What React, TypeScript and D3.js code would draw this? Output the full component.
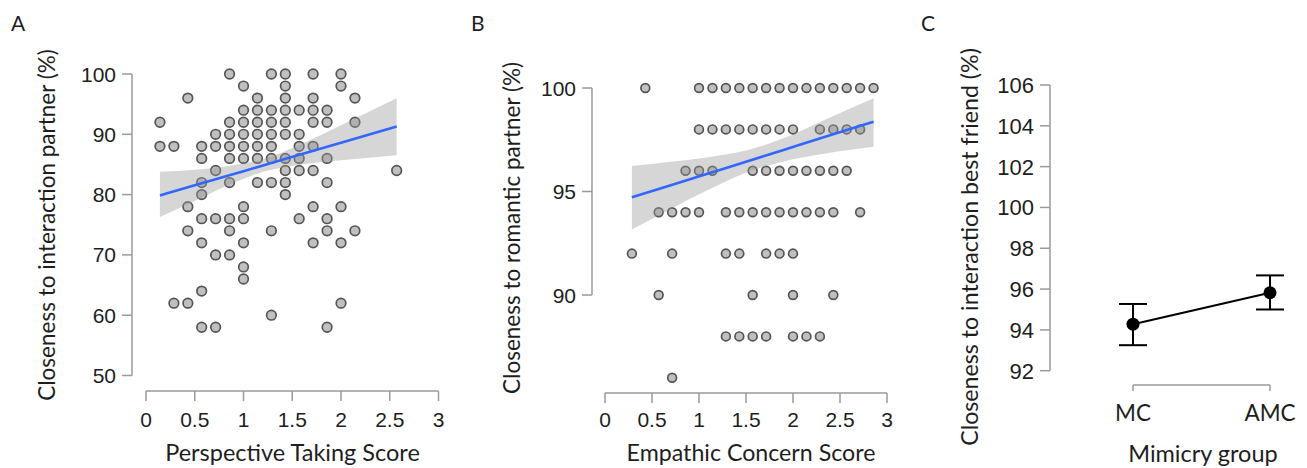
import React from 'react';
import * as d3 from 'd3';

// ---------- Panel A: Perspective taking vs closeness to interaction partner ----------
const ptScore = [
  0.143, 0.143,
  0.286, 0.286,
  0.429, 0.429, 0.429, 0.429,
  0.571, 0.571, 0.571, 0.571, 0.571, 0.571, 0.571, 0.571,
  0.714, 0.714, 0.714, 0.714, 0.714, 0.714,
  0.857, 0.857, 0.857, 0.857, 0.857, 0.857, 0.857, 0.857, 0.857,
  1, 1, 1, 1, 1, 1, 1, 1, 1, 1, 1,
  1.143, 1.143, 1.143, 1.143, 1.143, 1.143, 1.143,
  1.286, 1.286, 1.286, 1.286, 1.286, 1.286, 1.286, 1.286, 1.286,
  1.429, 1.429, 1.429, 1.429, 1.429, 1.429, 1.429, 1.429, 1.429, 1.429,
  1.571, 1.571, 1.571, 1.571, 1.571, 1.571,
  1.714, 1.714, 1.714, 1.714, 1.714, 1.714, 1.714, 1.714,
  1.857, 1.857, 1.857, 1.857, 1.857, 1.857, 1.857,
  2, 2, 2, 2, 2,
  2.143, 2.143, 2.143,
  2.571,
];
const ptCloseness = [
  92, 88,
  88, 62,
  96, 78, 74, 62,
  88, 86, 82, 80, 76, 72, 64, 58,
  90, 88, 84, 76, 70, 58,
  100, 92, 90, 88, 86, 82, 76, 74, 70,
  98, 94, 92, 90, 88, 86, 78, 76, 72, 68, 66,
  96, 94, 92, 90, 88, 86, 82,
  100, 94, 92, 90, 88, 86, 82, 74, 60,
  100, 98, 96, 94, 92, 90, 86, 84, 82, 80,
  94, 90, 88, 86, 84, 76,
  100, 96, 94, 92, 88, 84, 78, 72,
  94, 92, 86, 82, 76, 74, 58,
  100, 98, 78, 72, 62,
  96, 92, 74,
  84,
];
// fitted line and confidence band
const ptFitX = [0.143, 0.5, 0.9, 1.2, 1.6, 2.0, 2.571];
const ptFitY = [79.85, 81.54, 83.42, 84.83, 86.72, 88.6, 91.29];
const ptBandLow = [76.3, 78.95, 81.96, 83.78, 85.01, 85.7, 86.54];
const ptBandHigh = [83.8, 84.13, 84.88, 85.88, 88.43, 91.5, 95.96];
const ticksAX = [0, 0.5, 1, 1.5, 2, 2.5, 3];
const ticksAY = [50, 60, 70, 80, 90, 100];

// ---------- Panel B: Empathic concern vs closeness to romantic partner ----------
const ecScore = [
  0.286,
  0.429,
  0.571, 0.571,
  0.714, 0.714, 0.714,
  0.857, 0.857,
  1, 1, 1, 1,
  1.143, 1.143, 1.143,
  1.286, 1.286, 1.286, 1.286, 1.286,
  1.429, 1.429, 1.429, 1.429, 1.429,
  1.571, 1.571, 1.571, 1.571, 1.571, 1.571,
  1.714, 1.714, 1.714, 1.714, 1.714, 1.714,
  1.857, 1.857, 1.857, 1.857, 1.857,
  2, 2, 2, 2, 2, 2, 2,
  2.143, 2.143, 2.143, 2.143,
  2.286, 2.286, 2.286, 2.286, 2.286,
  2.429, 2.429, 2.429, 2.429, 2.429,
  2.571, 2.571, 2.571,
  2.714, 2.714, 2.714,
  2.857,
];
const ecCloseness = [
  92,
  100,
  94, 90,
  94, 92, 86,
  96, 94,
  100, 98, 96, 94,
  100, 98, 96,
  100, 98, 94, 92, 88,
  100, 98, 94, 92, 88,
  100, 98, 96, 94, 90, 88,
  100, 98, 96, 94, 92, 88,
  100, 98, 96, 94, 92,
  100, 98, 96, 94, 92, 90, 88,
  100, 96, 94, 88,
  100, 98, 96, 94, 88,
  100, 98, 96, 94, 90,
  100, 98, 96,
  100, 98, 94,
  100,
];
const ecFitX = [0.286, 0.7, 1.1, 1.5, 1.9, 2.3, 2.857];
const ecFitY = [94.72, 95.3, 95.87, 96.44, 97.01, 97.58, 98.37];
const ecBandLow = [93.17, 94.16, 95.08, 95.9, 96.45, 96.8, 97.16];
const ecBandHigh = [96.23, 96.44, 96.66, 96.98, 97.57, 98.38, 99.5];
const ticksBX = [0, 0.5, 1, 1.5, 2, 2.5, 3];
const ticksBY = [90, 95, 100];

// ---------- Panel C: Mimicry group means ----------
const groups = ['MC', 'AMC'];
const groupMean = [94.28, 95.82];
const groupLow = [93.25, 95.0];
const groupHigh = [95.27, 96.67];
const ticksCY = [92, 94, 96, 98, 100, 102, 104, 106];

const TICK_FONT = '"Liberation Sans", Arial, sans-serif';
const TITLE_FONT = 'Lato, "Open Sans", sans-serif';
const AXIS_COLOR = '#9a9a9a';
const TEXT_COLOR = '#1e1e1e';

const fmt = (v: number) => String(v);

function YAxis({ scale, ticks, x, tickLen = 10, gap = 6, fontSize = 21 }: any) {
  const ext = d3.extent(ticks) as [number, number];
  return (
    <g>
      <line x1={x} x2={x} y1={scale(ext[0])} y2={scale(ext[1])} stroke={AXIS_COLOR} strokeWidth={1.5} />
      {ticks.map((t: number) => (
        <g key={t}>
          <line x1={x - tickLen} x2={x} y1={scale(t)} y2={scale(t)} stroke={AXIS_COLOR} strokeWidth={1.5} />
          <text x={x - tickLen - gap} y={scale(t)} dy="0.36em" textAnchor="end" fontFamily={TICK_FONT} fontSize={fontSize} fill={TEXT_COLOR}>
            {fmt(t)}
          </text>
        </g>
      ))}
    </g>
  );
}

function XAxis({ scale, ticks, y, tickLen = 10, labelY, fontSize = 21 }: any) {
  const ext = d3.extent(ticks) as [number, number];
  return (
    <g>
      <line x1={scale(ext[0])} x2={scale(ext[1])} y1={y} y2={y} stroke={AXIS_COLOR} strokeWidth={1.5} />
      {ticks.map((t: number) => (
        <g key={t}>
          <line x1={scale(t)} x2={scale(t)} y1={y} y2={y + tickLen} stroke={AXIS_COLOR} strokeWidth={1.5} />
          <text x={scale(t)} y={labelY} textAnchor="middle" fontFamily={TICK_FONT} fontSize={fontSize} fill={TEXT_COLOR}>
            {fmt(t)}
          </text>
        </g>
      ))}
    </g>
  );
}

function Scatter({ xs, ys, xScale, yScale, fitX, fitY, bandLow, bandHigh, r }: any) {
  const area = d3
    .area<number>()
    .x((_, i) => xScale(fitX[i]))
    .y0((_, i) => yScale(bandLow[i]))
    .y1((_, i) => yScale(bandHigh[i]))
    .curve(d3.curveMonotoneX);
  const line = d3
    .line<number>()
    .x((_, i) => xScale(fitX[i]))
    .y((_, i) => yScale(fitY[i]))
    .curve(d3.curveMonotoneX);
  return (
    <g>
      {xs.map((x: number, i: number) => (
        <circle key={i} cx={xScale(x)} cy={yScale(ys[i])} r={r} fill="#c0c0c0" stroke="#555555" strokeWidth={1.7} />
      ))}
      <path d={area(fitX) || ''} fill="#999999" fillOpacity={0.4} />
      <path d={line(fitX) || ''} fill="none" stroke="#3366FF" strokeWidth={2.6} />
    </g>
  );
}

export default function App() {
  // Panel A scales
  const xA = d3.scaleLinear().domain([0, 3]).range([146, 438.5]);
  const yA = d3.scaleLinear().domain([50, 100]).range([375.5, 74]);
  // Panel B scales
  const xB = d3.scaleLinear().domain([0, 3]).range([605, 887]);
  const yB = d3.scaleLinear().domain([90, 100]).range([295, 88]);
  // Panel C scales
  const xC = d3.scalePoint<string>().domain(groups).range([1133, 1270]);
  const yC = d3.scaleLinear().domain([92, 106]).range([370.7, 85]);

  const lineC = d3
    .line<string>()
    .x((g) => xC(g) as number)
    .y((_, i) => yC(groupMean[i]));

  return (
    <svg width={1307} height={468} style={{ position: 'absolute', left: 0, top: 0, background: '#fff' }}>
      <rect width={1307} height={468} fill="#fff" />
      {/* Panel letters */}
      <text x={11} y={31} fontFamily={TITLE_FONT} fontSize={21} fill={TEXT_COLOR}>A</text>
      <text x={471} y={31} fontFamily={TITLE_FONT} fontSize={21} fill={TEXT_COLOR}>B</text>
      <text x={921} y={31} fontFamily={TITLE_FONT} fontSize={21} fill={TEXT_COLOR}>C</text>

      {/* Panel A */}
      <YAxis scale={yA} ticks={ticksAY} x={132} />
      <XAxis scale={xA} ticks={ticksAX} y={391} labelY={427} />
      <Scatter xs={ptScore} ys={ptCloseness} xScale={xA} yScale={yA} fitX={ptFitX} fitY={ptFitY} bandLow={ptBandLow} bandHigh={ptBandHigh} r={4.8} />
      <text x={292.5} y={461} textAnchor="middle" fontFamily={TITLE_FONT} fontSize={23.5} fill={TEXT_COLOR}>Perspective Taking Score</text>
      <text transform="translate(47,225) rotate(-90)" dy="0.35em" textAnchor="middle" fontFamily={TITLE_FONT} fontSize={22.5} fill={TEXT_COLOR}>
        Closeness to interaction partner (%)
      </text>

      {/* Panel B */}
      <YAxis scale={yB} ticks={ticksBY} x={592} />
      <XAxis scale={xB} ticks={ticksBX} y={393} labelY={427} />
      <Scatter xs={ecScore} ys={ecCloseness} xScale={xB} yScale={yB} fitX={ecFitX} fitY={ecFitY} bandLow={ecBandLow} bandHigh={ecBandHigh} r={4.4} />
      <text x={751} y={461} textAnchor="middle" fontFamily={TITLE_FONT} fontSize={23.2} fill={TEXT_COLOR}>Empathic Concern Score</text>
      <text transform="translate(512,228) rotate(-90)" dy="0.35em" textAnchor="middle" fontFamily={TITLE_FONT} fontSize={22.5} fill={TEXT_COLOR}>
        Closeness to romantic partner (%)
      </text>

      {/* Panel C */}
      <YAxis scale={yC} ticks={ticksCY} x={1050} fontSize={22} />
      <g>
        <line x1={xC('MC')} x2={xC('AMC')} y1={385} y2={385} stroke={AXIS_COLOR} strokeWidth={1.5} />
        {groups.map((g) => (
          <g key={g}>
            <line x1={xC(g)} x2={xC(g)} y1={385} y2={391} stroke={AXIS_COLOR} strokeWidth={1.5} />
            <text x={xC(g)} y={421} textAnchor="middle" fontFamily={TITLE_FONT} fontSize={22.5} fill={TEXT_COLOR}>{g}</text>
          </g>
        ))}
      </g>
      <path d={lineC(groups) || ''} fill="none" stroke="#000" strokeWidth={2} />
      {groups.map((g, i) => (
        <g key={g}>
          <line x1={xC(g)} x2={xC(g)} y1={yC(groupLow[i])} y2={yC(groupHigh[i])} stroke="#000" strokeWidth={2} />
          <line x1={(xC(g) as number) - 14} x2={(xC(g) as number) + 14} y1={yC(groupLow[i])} y2={yC(groupLow[i])} stroke="#000" strokeWidth={2} />
          <line x1={(xC(g) as number) - 14} x2={(xC(g) as number) + 14} y1={yC(groupHigh[i])} y2={yC(groupHigh[i])} stroke="#000" strokeWidth={2} />
          <circle cx={xC(g)} cy={yC(groupMean[i])} r={6.5} fill="#000" />
        </g>
      ))}
      <text x={1203} y={462} textAnchor="middle" fontFamily={TITLE_FONT} fontSize={23.5} fill={TEXT_COLOR}>Mimicry group</text>
      <text transform="translate(970,247) rotate(-90)" dy="0.35em" textAnchor="middle" fontFamily={TITLE_FONT} fontSize={23.2} fill={TEXT_COLOR}>
        Closeness to interaction best friend (%)
      </text>
    </svg>
  );
}
